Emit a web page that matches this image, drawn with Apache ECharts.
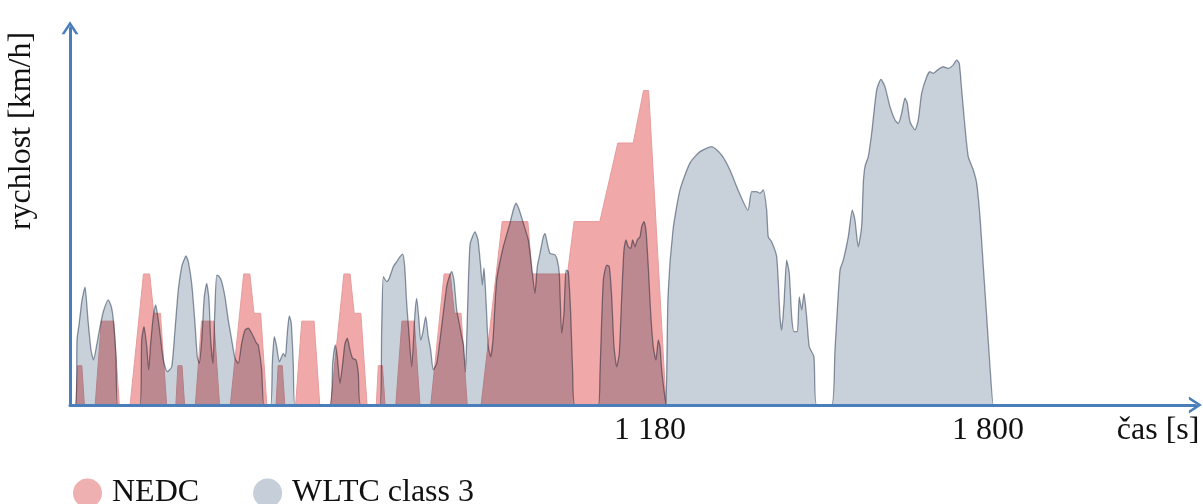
<!DOCTYPE html>
<html>
<head>
<meta charset="utf-8">
<script src="https://cdn.jsdelivr.net/npm/echarts@6/dist/echarts.min.js"></script>
<style>
html,body{margin:0;padding:0;background:#fff;}
#c{width:1203px;height:504px;}
</style>
</head>
<body>
<div id="c"></div>
<script>
// ---- data (time in s, speed in km/h) ----
const seriesNames = ['NEDC', 'WLTC class 3'];
const axisTitles = { x: 'čas [s]', y: 'rychlost [km/h]' };
const xTickValues = [1180, 1800];
const xTickLabels = ['1 180', '1 800'];

const nedcTime = [0, 11, 15, 23, 28, 49, 61, 85, 96, 117, 143, 155, 163, 176, 188,
  206, 210, 218, 223, 244, 256, 280, 291, 312, 338, 350, 358, 371, 383,
  401, 405, 413, 418, 439, 451, 475, 486, 507, 533, 545, 553, 566, 578,
  596, 600, 608, 613, 634, 646, 670, 681, 702, 728, 740, 748, 761, 773,
  800, 841, 891, 899, 968, 981, 1031, 1066, 1096, 1116, 1126, 1160, 1180];
const nedcSpeed = [0, 0, 15, 15, 0, 0, 32, 32, 0, 0, 50, 50, 35, 35, 0,
  0, 15, 15, 0, 0, 32, 32, 0, 0, 50, 50, 35, 35, 0,
  0, 15, 15, 0, 0, 32, 32, 0, 0, 50, 50, 35, 35, 0,
  0, 15, 15, 0, 0, 32, 32, 0, 0, 50, 50, 35, 35, 0,
  0, 70, 70, 50, 50, 70, 70, 100, 100, 120, 120, 0, 0];

const wltcTime = [
  0, 11.7, 13.6, 17.5, 23.4, 29.2, 35.0, 40.9, 45.7, 52.0,
  58.4, 64.8, 74.5, 81.1, 85.6, 89.5, 92.8, 136.2, 139.5, 144.0,
  149.3, 153.1, 157.0, 162.1, 166.8, 171.8, 175.1, 181.6, 189.3, 197.9,
  204.3, 210.7, 217.4, 221.8, 225.7, 230.2, 236.8, 243.2, 247.7, 251.6,
  256.3, 261.3, 266.0, 270.5, 273.8, 278.3, 281.6, 285.5, 290.5, 295.2,
  301.6, 308.0, 314.7, 321.1, 327.5, 334.1, 340.5, 347.0, 353.6, 363.3,
  366.4, 373.0, 377.5, 390.5, 393.7, 397.5, 402.2, 407.3, 411.9, 415.1,
  419.0, 422.8, 426.7, 430.6, 434.5, 437.8, 505.9, 511.2, 516.2, 520.1,
  525.4, 530.7, 535.1, 539.6, 544.9, 550.1, 556.5, 561.0, 565.7, 603.2,
  606.5, 609.7, 616.3, 621.3, 629.1, 635.7, 642.1, 647.4, 651.3, 655.2,
  659.1, 664.9, 671.3, 674.6, 678.5, 682.4, 686.3, 692.2, 697.2, 701.9,
  706.9, 713.6, 720.0, 726.4, 733.0, 738.1, 742.8, 747.2, 752.5, 757.5,
  762.2, 765.7, 769.6, 772.5, 778.4, 788.1, 793.9, 799.2, 802.3, 805.6,
  809.5, 814.0, 818.6, 823.1, 830.3, 843.2, 856.2, 862.6, 867.9, 874.3,
  882.1, 891.8, 898.4, 904.8, 909.3, 914.6, 921.0, 924.3, 928.8, 934.0,
  943.8, 948.2, 952.1, 956.8, 961.3, 965.2, 969.6, 974.3, 978.2, 982.7,
  1028.0, 1031.3, 1037.8, 1044.4, 1049.4, 1054.1, 1058.6, 1063.8, 1068.9, 1073.6,
  1078.0, 1081.9, 1086.4, 1091.1, 1094.9, 1099.4, 1103.9, 1109.2, 1112.5, 1117.0,
  1120.8, 1125.3, 1130.0, 1135.0, 1140.3, 1144.8, 1148.1, 1151.4, 1155.9, 1159.8,
  1163.7, 1173.4, 1187.0, 1206.5, 1225.9, 1248.7, 1268.1, 1284.3, 1299.9, 1319.3,
  1326.5, 1336.3, 1342.7, 1349.1, 1355.7, 1358.8, 1365.4, 1375.2, 1381.6, 1384.9,
  1389.4, 1394.6, 1399.7, 1404.4, 1408.8, 1415.3, 1419.1, 1423.8, 1428.3, 1433.5,
  1438.6, 1447.7, 1453.0, 1482.2, 1488.6, 1498.4, 1504.8, 1514.5, 1522.3, 1527.5,
  1533.9, 1540.5, 1543.7, 1547.0, 1553.4, 1560.0, 1569.7, 1578.1, 1585.9, 1595.6,
  1605.4, 1611.8, 1618.4, 1624.8, 1629.3, 1634.6, 1644.3, 1650.7, 1657.3, 1667.1,
  1673.5, 1679.9, 1689.7, 1699.4, 1709.1, 1718.8, 1725.5, 1730.5, 1735.2, 1741.6,
  1748.0, 1757.8, 1764.4, 1770.8, 1777.3, 1783.9, 1790.3, 1796.7, 1800];
const wltcSpeed = [
  0, 0, 24.8, 30.5, 40.1, 45.0, 32.4, 21.0, 17.2, 22.9,
  29.8, 35.6, 40.1, 37.0, 29.9, 18.4, 0, 0, 24.8, 29.9,
  22.3, 13.4, 23.5, 33.7, 38.2, 32.4, 27.4, 17.2, 12.7, 14.6,
  28.6, 43.9, 52.8, 55.3, 56.9, 54.7, 46.4, 31.2, 18.4, 15.9,
  24.8, 41.3, 46.4, 40.1, 24.8, 15.9, 35.0, 49.6, 49.0, 47.1,
  41.3, 32.4, 24.8, 17.8, 15.9, 23.5, 28.6, 29.3, 27.4, 23.5,
  22.9, 13.4, 0, 0, 15.9, 26.1, 22.3, 16.5, 18.4, 19.7,
  18.4, 27.4, 34.0, 31.2, 15.9, 0, 0, 15.9, 22.9, 18.4,
  8.3, 15.9, 23.5, 25.5, 21.0, 17.8, 17.2, 12.1, 0, 0,
  28.6, 49.0, 47.1, 48.4, 52.8, 54.7, 56.6, 57.6, 52.8, 38.8,
  28.6, 14.6, 35.0, 40.7, 33.7, 24.8, 27.4, 33.7, 26.1, 21.0,
  13.4, 15.9, 24.8, 35.0, 45.2, 49.0, 50.9, 47.7, 36.3, 31.2,
  26.1, 22.9, 12.6, 28.6, 61.1, 66.1, 63.0, 52.8, 45.8, 52.3,
  40.1, 22.3, 18.4, 24.8, 47.7, 60.4, 69.4, 74.4, 77.0, 74.4,
  69.4, 63.0, 52.8, 42.6, 52.8, 57.9, 64.2, 65.5, 61.7, 57.9,
  57.3, 55.3, 50.3, 27.4, 35.0, 51.5, 50.9, 35.0, 12.1, 0,
  0, 12.2, 47.7, 53.4, 52.8, 41.3, 22.3, 14.6, 19.7, 41.3,
  59.2, 63.0, 60.4, 59.8, 63.0, 60.4, 63.0, 64.2, 68.1, 70.0,
  66.8, 52.8, 35.0, 22.3, 17.2, 24.8, 22.3, 13.4, 5.7, 0,
  41.3, 66.8, 82.1, 92.4, 96.7, 98.6, 95.4, 89.7, 82.1, 74.4,
  81.4, 81.4, 80.8, 82.1, 74.4, 64.2, 62.3, 56.6, 33.7, 28.6,
  38.8, 55.3, 50.3, 33.7, 28.0, 28.0, 41.3, 36.3, 42.6, 33.7,
  22.3, 18.4, 0, 0, 21.0, 51.5, 55.3, 64.2, 74.4, 70.6,
  60.4, 68.1, 84.6, 91.0, 94.8, 103.7, 120.2, 124.3, 121.5, 113.9,
  108.8, 107.5, 111.3, 117.1, 115.2, 108.1, 105.0, 108.8, 119.0, 125.3,
  127.2, 126.6, 128.1, 129.1, 128.5, 129.8, 131.7, 130.4, 120.2, 106.2,
  94.8, 89.7, 84.6, 71.9, 52.8, 33.7, 14.6, 0, 0];

// ---- chart ----
const FONT = '"Liberation Serif", "Times New Roman", "DejaVu Serif", serif';
const AXIS_COLOR = '#4A7EBB';
const ARROW = 'path://M0,13 L8.5,0 L17,13 L14,13 L8.5,4.6 L3,13 Z';
const PINK = '#F0A8A8';
const GREY = '#C8D0DA';

const chart = echarts.init(document.getElementById('c'), null, { renderer: 'canvas' });

const option = {
  backgroundColor: '#ffffff',
  animation: false,
  grid: { left: 70, top: 27.7, width: 1125.4, height: 377.3, containLabel: false, outerBoundsMode: 'none' },
  legend: {
    left: 68, top: 472,
    icon: 'circle', itemWidth: 29, itemHeight: 29, itemGap: 54,
    selectedMode: false,
    itemStyle: { borderWidth: 0 },
    textStyle: { fontSize: 32, fontFamily: FONT, color: '#111', padding: [0, 0, 0, 5] },
    data: [
      { name: seriesNames[0], itemStyle: { color: '#EEB0B0' } },
      { name: seriesNames[1], itemStyle: { color: '#C5CED9' } }
    ]
  },
  xAxis: {
    type: 'value', min: 0, max: 2190, z: 5,
    axisLine: { show: true, symbol: ['none', ARROW], symbolSize: [17, 13], lineStyle: { color: AXIS_COLOR, width: 3 } },
    axisTick: { show: false },
    splitLine: { show: false },
    axisLabel: {
      customValues: xTickValues,
      margin: 10,
      color: '#111', fontSize: 32, fontFamily: FONT,
      formatter: function (v) {
        const i = xTickValues.indexOf(v);
        return i === 0 ? '{a|' + xTickLabels[0] + '}' : '{b|' + xTickLabels[1] + '}';
      },
      rich: {
        a: { fontSize: 32, fontFamily: FONT, color: '#111', padding: [0, 53, 0, 0] },
        b: { fontSize: 32, fontFamily: FONT, color: '#111', padding: [0, 14, 0, 0] }
      }
    },
    name: axisTitles.x,
    nameLocation: 'end',
    nameGap: 4,
    nameTextStyle: { fontSize: 32, fontFamily: FONT, color: '#111', align: 'right', verticalAlign: 'top', padding: [10, 0, 0, 0] }
  },
  yAxis: {
    type: 'value', min: 0, max: 144, z: 5,
    axisLine: { show: true, onZero: false, symbol: ['none', ARROW], symbolSize: [17, 13], lineStyle: { color: AXIS_COLOR, width: 3 } },
    axisTick: { show: false },
    axisLabel: { show: false },
    splitLine: { show: false }
  },
  graphic: [{
    type: 'text', x: 22, y: 131, rotation: Math.PI / 2,
    style: { text: axisTitles.y, fontSize: 32, fontFamily: FONT, fill: '#111', align: 'center', verticalAlign: 'middle' }
  }],
  series: [
    {
      name: seriesNames[0], type: 'line', z: 2,
      data: nedcTime.map((t, i) => [t, nedcSpeed[i]]),
      symbol: 'none', showSymbol: false,
      lineStyle: { color: '#E69C9C', width: 1 },
      itemStyle: { color: PINK },
      areaStyle: { color: PINK, opacity: 1 }
    },
    {
      name: seriesNames[1], type: 'line', z: 3,
      data: wltcTime.map((t, i) => [t, wltcSpeed[i]]),
      symbol: 'none', showSymbol: false,
      smooth: 0.2,
      blendMode: 'multiply',
      lineStyle: { color: '#8F99A7', width: 1.3 },
      itemStyle: { color: GREY },
      areaStyle: { color: GREY, opacity: 1 }
    }
  ]
};
chart.setOption(option);
</script>
</body>
</html>
